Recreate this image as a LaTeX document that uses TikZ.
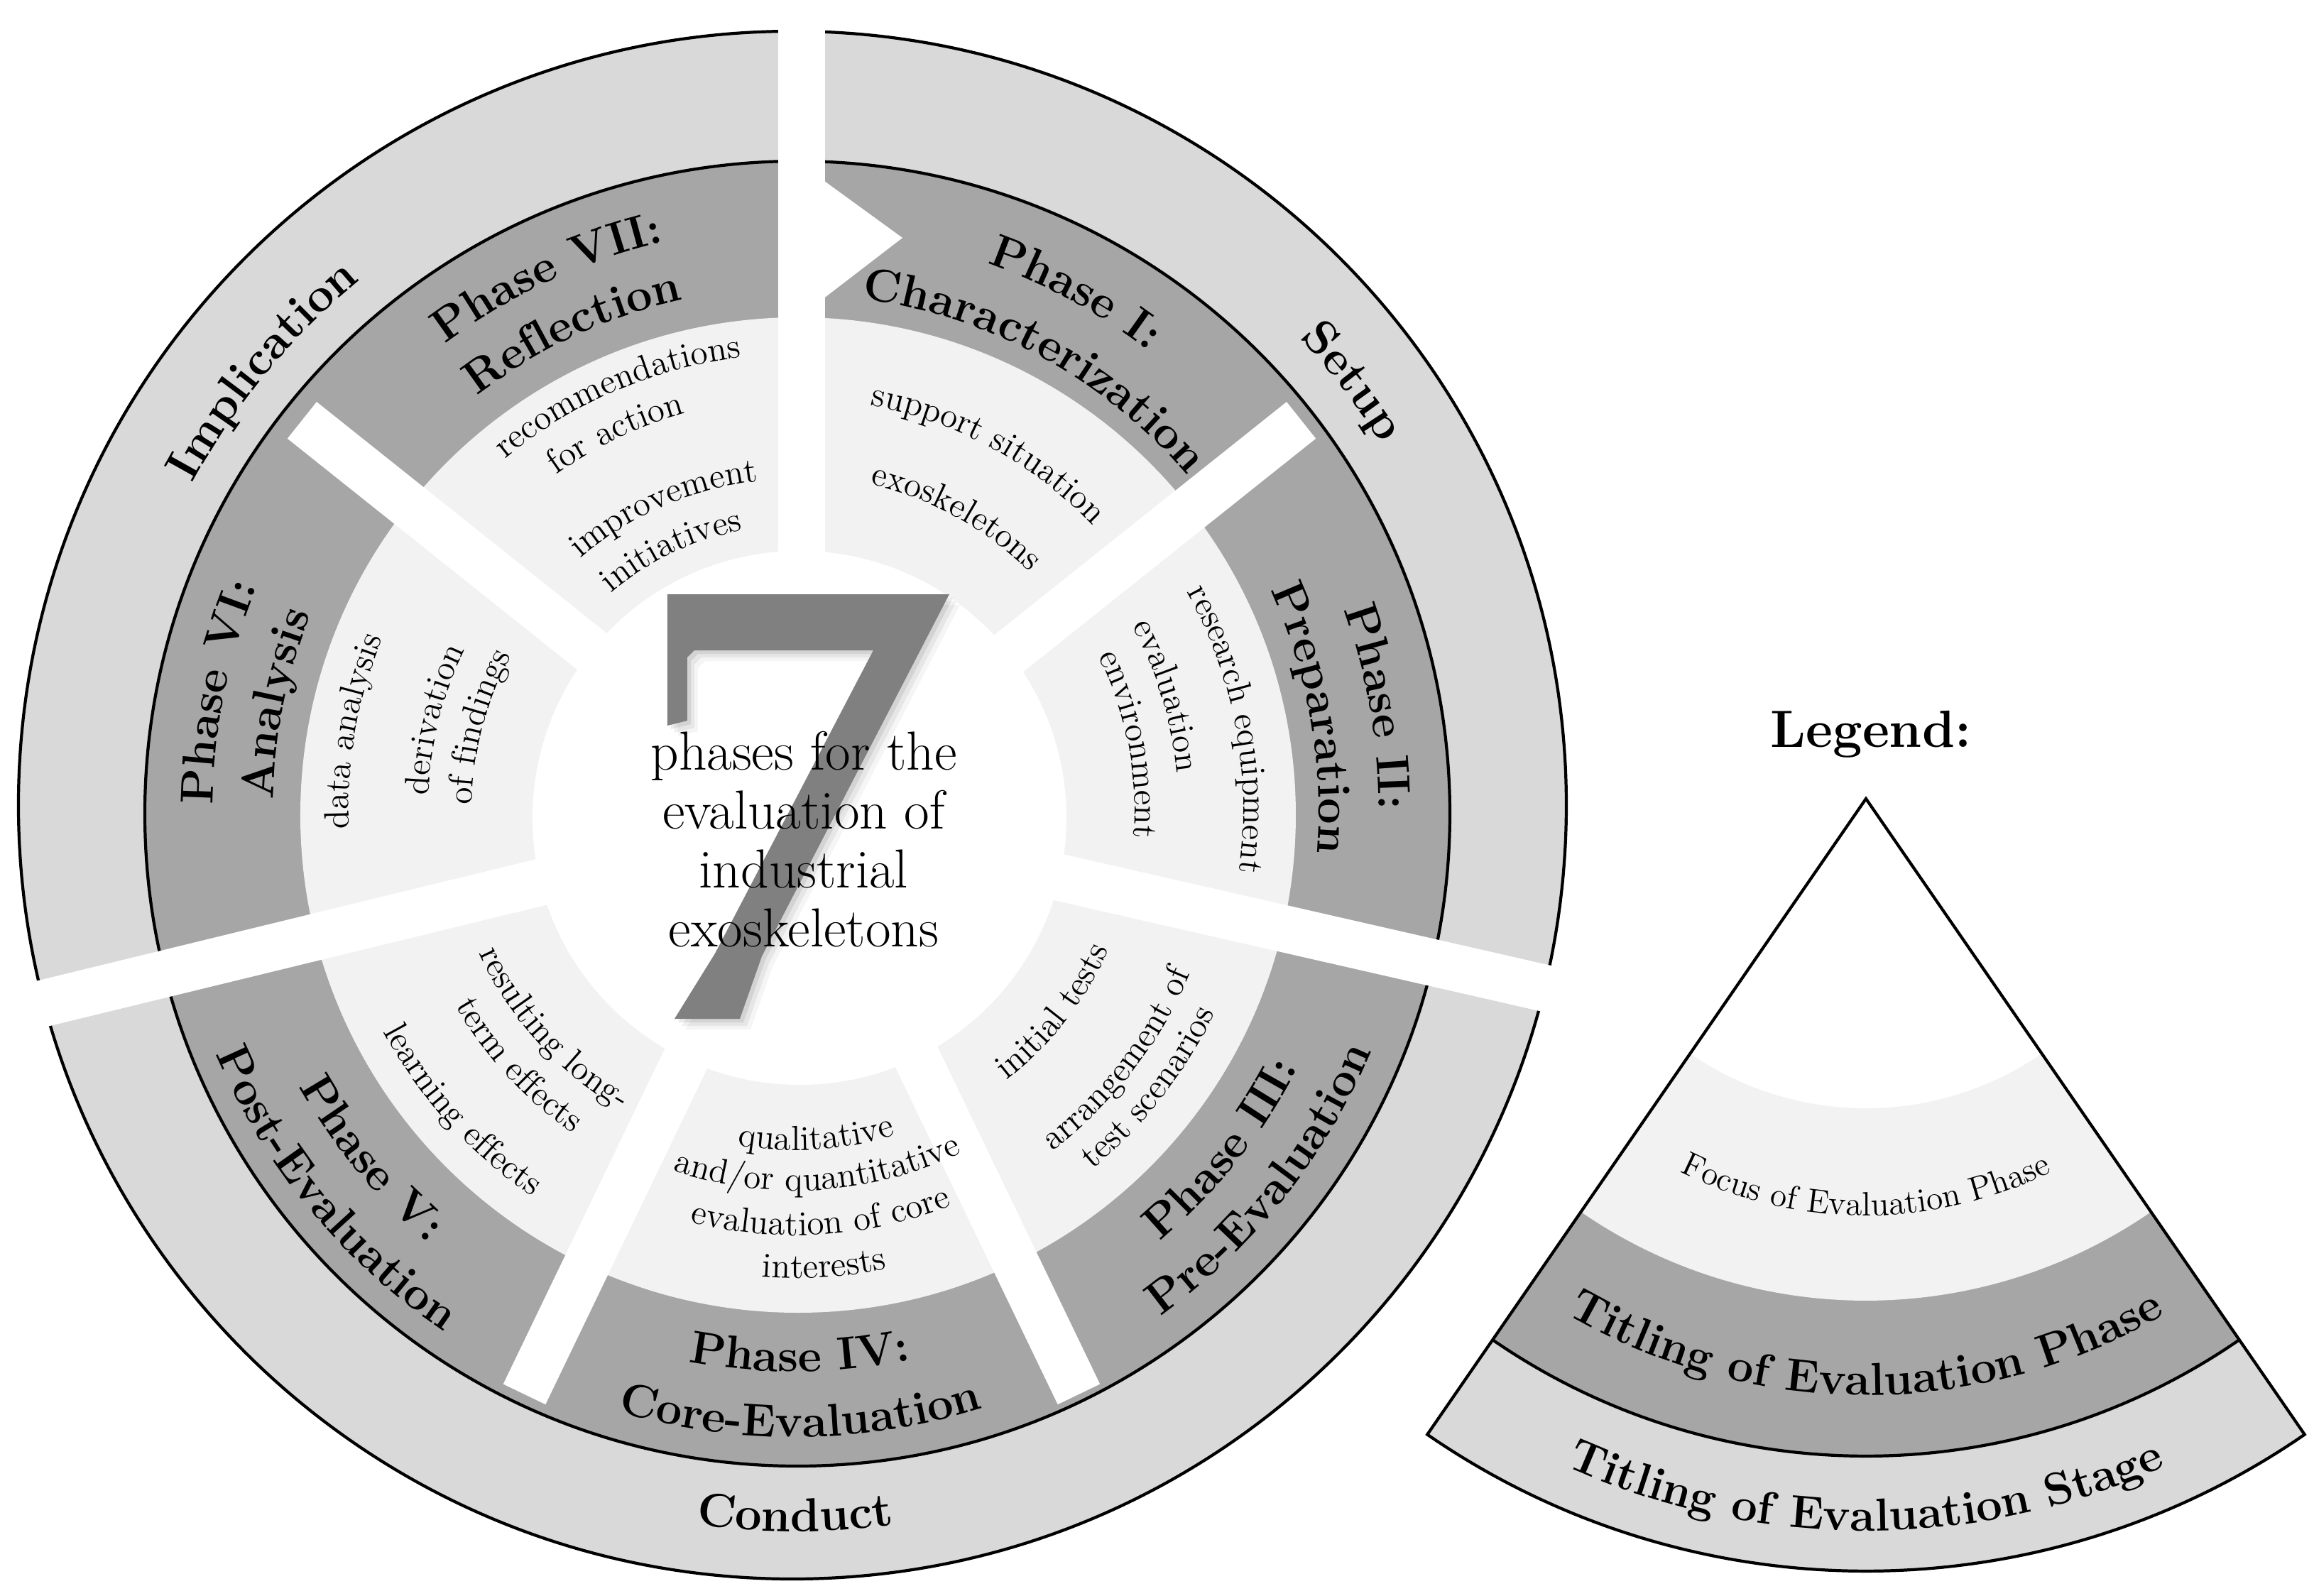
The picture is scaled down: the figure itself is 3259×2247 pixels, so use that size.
\documentclass[tikz,border=0pt]{standalone}
\usepackage{fontspec}
\usetikzlibrary{decorations.text}
\definecolor{outerg}{HTML}{D9D9D9}
\definecolor{darkg}{HTML}{A6A6A6}
\definecolor{focusg}{HTML}{F2F2F2}
\definecolor{sevg}{HTML}{808080}
\newcommand\ttlfont{\bfseries\fontsize{18.5}{22}\selectfont}
\newcommand\stgfont{\bfseries\fontsize{19}{23}\selectfont}
\newcommand\fcsfont{\fontsize{14}{17}\selectfont}
\newcommand\lgfcsfont{\fontsize{13.5}{16}\selectfont}
\newcommand\ctrfont{\fontsize{22}{26}\selectfont}
\newcommand\cwtext[4]{\path[shift={(#1)},decorate,decoration={text along path,text align=center,text={#4}}] ({#2+70}:#3) arc[start angle={#2+70},end angle={#2-70},radius=#3];}
\newcommand\ccwtext[4]{\path[shift={(#1)},decorate,decoration={text along path,text align=center,text={#4}}] ({#2-70}:#3) arc[start angle={#2-70},end angle={#2+70},radius=#3];}
\tikzset{gapline/.style={white,line width=0.66cm},ringline/.style={line width=1.2pt}}
\begin{document}
\begin{tikzpicture}[x=0.01cm,y=0.01cm]
\useasboundingbox[fill=white] (-1120,-1107) rectangle (2139,1140);
% ---------- rings
\fill[outerg] (-4,6) circle[radius=1090];
\fill[darkg] (3,-6) circle[radius=919];
\fill[focusg] (4,-8) circle[radius=701];
\fill[white] (6,-12) circle[radius=376];
% ---------- gaps between phases
\begin{scope}[shift={(9,-13)}]
\foreach \a in {38.571,-64.286,-115.714,141.429}
  \draw[gapline] (0,0) -- (\a:900);
\end{scope}
\draw[ringline] (3,-6) circle[radius=919];
\draw[ringline] (-4,6) circle[radius=1090];
% ---------- gaps between stages
\begin{scope}[shift={(9,-13)}]
\draw[gapline] (0,0) -- (0,1175);
\foreach \a in {-12.857,-166.3}
  \draw[gapline] (0,0) -- (\a:1170);
\end{scope}
% ---------- start notch of phase I
\fill[white] (30,893) -- (151,805) -- (30,712) -- cycle;
% ---------- the big 7 with soft shadow
\foreach \o/\c/\op in {15/black/0.04,10/black/0.06,5/black/0.08,0/sevg/1}{
  \begin{scope}[shift={(\o,-\o)}]
  \fill[\c,opacity=\op] (-180,303) -- (217,303) -- (-47,-207) -- (-78,-295) -- (-170,-295)
     -- (-113,-203) -- (110,224) -- (-142,224) -- (-152,214) -- (-152,125) -- (-180,118) -- cycle;
  \end{scope}}
% ---------- centre text
\node[font=\ctrfont,anchor=base] (c1) at (12,56) {phases for the};
\node[font=\ctrfont,anchor=base] (c2) at (12,-27) {evaluation of};
\node[font=\ctrfont,anchor=base] (c3) at (12,-110) {industrial};
\node[font=\ctrfont,anchor=base] (c4) at (12,-193) {exoskeletons};
% ---------- stage labels
\cwtext{0,0}{37.5}{972}{|\stgfont|Setup}
\cwtext{0,0}{140.5}{965}{|\stgfont|Implication}
\ccwtext{0,0}{-90}{1017}{|\stgfont|Conduct}
% ---------- phase titles
\cwtext{0,0}{115}{820}{|\ttlfont|Phase VII:}
\cwtext{0,0}{115}{735}{|\ttlfont|Reflection}
\cwtext{0,0}{61.5}{815}{|\ttlfont|Phase I:}
\cwtext{0,0}{61.5}{725}{|\ttlfont|Characterization}
\cwtext{0,0}{10}{822}{|\ttlfont|Phase II:}
\cwtext{0,0}{10}{737}{|\ttlfont|Preparation}
\ccwtext{0,0}{-38.5}{796}{|\ttlfont|Phase III:}
\ccwtext{0,0}{-38.5}{880}{|\ttlfont|Pre-Evaluation}
\ccwtext{0,0}{-89.5}{792}{|\ttlfont|Phase IV:}
\ccwtext{0,0}{-89.5}{884}{|\ttlfont|Core-Evaluation}
\ccwtext{0,0}{-140.5}{800}{|\ttlfont|Phase V:}
\ccwtext{0,0}{-140.5}{886}{|\ttlfont|Post-Evaluation}
\cwtext{0,0}{168.5}{820}{|\ttlfont|Phase VI:}
\cwtext{0,0}{168.5}{735}{|\ttlfont|Analysis}
% ---------- focus texts
\cwtext{0,0}{113.2}{641}{|\fcsfont|recommendations}
\cwtext{0,0}{115.5}{579}{|\fcsfont|for action}
\cwtext{0,0}{113.5}{465}{|\fcsfont|improvement}
\cwtext{0,0}{115.5}{400}{|\fcsfont|initiatives}
\cwtext{0,0}{61.6}{579}{|\fcsfont|support situation}
\cwtext{0,0}{61.2}{470}{|\fcsfont|exoskeletons}
\cwtext{0,0}{10.5}{631}{|\fcsfont|research equipment}
\cwtext{0,0}{17}{540}{|\fcsfont|evaluation}
\cwtext{0,0}{11}{478}{|\fcsfont|environment}
\ccwtext{0,0}{-38.1}{484}{|\fcsfont|initial tests}
\ccwtext{0,0}{-37.8}{602}{|\fcsfont|arrangement of}
\ccwtext{0,0}{-38.2}{657}{|\fcsfont|test scenarios}
\ccwtext{0,0}{-86.4}{480}{|\fcsfont|qualitative}
\ccwtext{0,0}{-86.4}{537}{|\fcsfont|and/or quantitative}
\ccwtext{0,0}{-86.4}{600}{|\fcsfont|evaluation of core}
\ccwtext{0,0}{-86.4}{660}{|\fcsfont|interests}
\ccwtext{0,0}{-137.8}{489}{|\fcsfont|resulting long-}
\ccwtext{0,0}{-137.2}{553}{|\fcsfont|term effects}
\ccwtext{0,0}{-137.9}{659}{|\fcsfont|learning effects}
\cwtext{0,0}{170}{629}{|\fcsfont|data analysis}
\cwtext{0,0}{166}{517}{|\fcsfont|derivation}
\cwtext{0,0}{165.4}{455}{|\fcsfont|of findings}
% ---------- legend
\node[font=\bfseries\fontsize{21}{25}\selectfont,anchor=base] (lg) at (1515,88) {Legend:};
\begin{scope}[shift={(1508,15)}]
\fill[outerg] (0,0) -- (-124.6:1088) arc[start angle=-124.6,end angle=-55.4,radius=1088] -- cycle;
\fill[darkg] (0,0) -- (-124.6:926) arc[start angle=-124.6,end angle=-55.4,radius=926] -- cycle;
\fill[focusg] (0,0) -- (-124.6:707) arc[start angle=-124.6,end angle=-55.4,radius=707] -- cycle;
\fill[white] (0,0) -- (-124.6:436) arc[start angle=-124.6,end angle=-55.4,radius=436] -- cycle;
\draw[ringline] (-124.6:926) arc[start angle=-124.6,end angle=-55.4,radius=926];
\draw[ringline,line join=miter] (0,0) -- (-124.6:1088) arc[start angle=-124.6,end angle=-55.4,radius=1088] -- cycle;
\end{scope}
\ccwtext{1508,15}{-90}{587}{|\lgfcsfont|Focus of Evaluation Phase}
\ccwtext{1508,15}{-90}{840}{|\ttlfont|Titling of Evaluation Phase}
\ccwtext{1508,15}{-90}{1031}{|\ttlfont|Titling of Evaluation Stage}
\end{tikzpicture}
\end{document}
